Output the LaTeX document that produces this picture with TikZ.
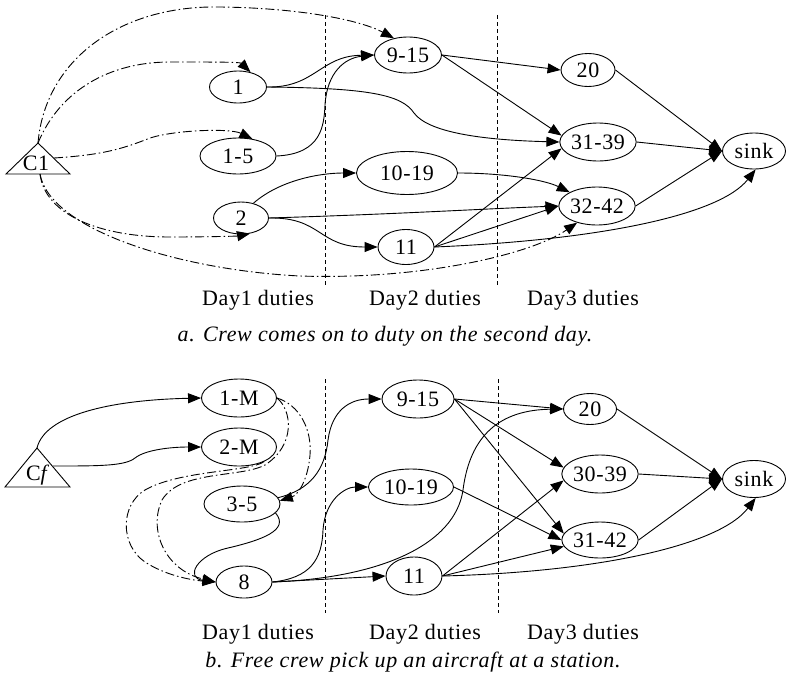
\documentclass[tikz,border=0pt]{standalone}
\usepackage{fontspec}
\setmainfont{Liberation Serif}[LetterSpace=3]
\usetikzlibrary{arrows.meta,shapes.geometric}
\begin{document}
\begin{tikzpicture}[x=1pt,y=-1pt,
  every node/.style={font=\fontsize{22}{26}\selectfont},
  nd/.style={ellipse,draw,line width=0.9pt,inner sep=0pt},
  lbl/.style={inner sep=0pt,anchor=base},
  arr/.style={line width=0.9pt,-{Triangle[length=13pt,width=10pt]}},
  dd/.style={arr,dash pattern=on 9pt off 3pt on 1.5pt off 3pt},
  sep/.style={line width=1pt,dash pattern=on 4pt off 3pt}]
\useasboundingbox (0,0) rectangle (786,680);

% ================= part a =================
\draw[line width=0.9pt] (38,143) -- (70,174) -- (6,174) -- cycle;
\node[lbl] (C1) at (36,170) {C1};
\coordinate (c1top) at (38,143);
\coordinate (c1right) at (54,158);
\coordinate (c1bot) at (40,174);

\node[nd,minimum width=57,minimum height=32] (a1) at (238,87) {1};
\node[nd,minimum width=76,minimum height=36] (a15) at (238,156) {1-5};
\node[nd,minimum width=55,minimum height=32] (a2) at (241,218) {2};
\node[nd,minimum width=67,minimum height=36] (a915) at (408,55) {9-15};
\node[nd,minimum width=101,minimum height=43] (a1019) at (407,173) {10-19};
\node[nd,minimum width=56,minimum height=35] (a11) at (406,247) {11};
\node[nd,minimum width=54,minimum height=33] (a20) at (588,70) {20};
\node[nd,minimum width=75,minimum height=38] (a3139) at (598,142) {31-39};
\node[nd,minimum width=76,minimum height=38] (a3242) at (597,206) {32-42};
\node[nd,minimum width=63,minimum height=36] (asink) at (754,151) {sink};

\coordinate (sa1) at (325,15);
\coordinate (sa2) at (325,287);
\coordinate (sa3) at (497,15);
\coordinate (sa4) at (497,287);
\draw[sep] (sa1) -- (sa2);
\draw[sep] (sa3) -- (sa4);

\node[lbl] (da1) at (258,305) {Day1 duties};
\node[lbl] (da2) at (425,305) {Day2 duties};
\node[lbl] (da3) at (583,305) {Day3 duties};
\node[lbl] (capa) at (385,341) {\itshape a. Crew comes on to duty on the second day.};

% solid edges a
\draw[arr] (a1.east) .. controls (315,88) and (320,56) .. (a915.west);
\draw[arr] (a1.east) .. controls (370,88) and (402,95) .. (414,113) .. controls (428,132) and (480,140) .. (a3139.west);
\draw[arr] (a15.east) .. controls (322,154) and (324,125) .. (325,105) .. controls (327,72) and (345,58) .. (a915.west);
\draw[arr] (a2.50) .. controls (280,180) and (320,173) .. (a1019.west);
\draw[arr] (a2.east) .. controls (400,214) and (480,209) .. (a3242.west);
\draw[arr] (a2.east) .. controls (322,217) and (318,247) .. (a11.west);
\draw[arr] (a1019.east) .. controls (505,173) and (545,180) .. (a3242.north west);
\draw[arr] (a915.east) -- (a20.west);
\draw[arr] (a915.east) -- (a3139.170);
\draw[arr] (a11.east) -- (a3139.190);
\draw[arr] (a11.east) -- (a3242.west);
\draw[arr] (a11.east) .. controls (600,240) and (720,215) .. (asink.-85);
\draw[arr] (a20.east) -- (asink.west);
\draw[arr] (a3139.east) -- (asink.west);
\draw[arr] (a3242.east) -- (asink.west);

% dash-dot edges a
\draw[dd] (c1top) .. controls (45,60) and (120,5) .. (220,7) .. controls (300,8) and (360,20) .. (a915.130);
\draw[dd] (c1top) .. controls (60,90) and (110,62) .. (170,62) .. controls (215,62) and (240,62) .. (a1.50);
\draw[dd] (c1right) .. controls (100,155) and (120,150) .. (150,138) .. controls (175,130) and (230,128) .. (a15.50);
\draw[dd] (c1bot) .. controls (45,215) and (100,237) .. (170,237) .. controls (210,237) and (238,236) .. (a2.-60);
\draw[dd] (c1bot) .. controls (50,230) and (180,270) .. (300,276) .. controls (420,280) and (530,255) .. (a3242.-140);

% ================= part b =================
\draw[line width=0.9pt] (37,448) -- (70,487) -- (5,487) -- cycle;
\node[lbl] (Cf) at (38,480) {C\textit{f}};
\coordinate (cftop) at (37,448);
\coordinate (cfright) at (53,466);

\node[nd,minimum width=75,minimum height=38] (b1M) at (239,398) {1-M};
\node[nd,minimum width=75,minimum height=38] (b2M) at (239,447) {2-M};
\node[nd,minimum width=76,minimum height=36] (b35) at (242,504) {3-5};
\node[nd,minimum width=56,minimum height=32] (b8) at (244,582) {8};
\node[nd,minimum width=72,minimum height=38] (b915) at (418,399) {9-15};
\node[nd,minimum width=85,minimum height=36] (b1019) at (411,487) {10-19};
\node[nd,minimum width=56,minimum height=38] (b11) at (414,576) {11};
\node[nd,minimum width=53,minimum height=31] (b20) at (590,409) {20};
\node[nd,minimum width=74,minimum height=38] (b3039) at (600,474) {30-39};
\node[nd,minimum width=74,minimum height=36] (b3142) at (600,540) {31-42};
\node[nd,minimum width=63,minimum height=37] (bsink) at (754,479) {sink};

\coordinate (sb1) at (325,379);
\coordinate (sb2) at (325,613);
\coordinate (sb3) at (498,379);
\coordinate (sb4) at (498,613);
\draw[sep] (sb1) -- (sb2);
\draw[sep] (sb3) -- (sb4);

\node[lbl] (db1) at (258,639) {Day1 duties};
\node[lbl] (db2) at (425,639) {Day2 duties};
\node[lbl] (db3) at (583,639) {Day3 duties};
\node[lbl] (capb) at (413,667) {\itshape b. Free crew pick up an aircraft at a station.};

% solid edges b
\draw[arr] (cftop) .. controls (45,415) and (110,400) .. (b1M.west);
\draw[arr] (cfright) .. controls (100,466) and (125,466) .. (135,458) .. controls (145,450) and (170,447) .. (b2M.west);
\draw[arr] (b35.-15) .. controls (290,530) and (262,540) .. (228,548) .. controls (196,555) and (185,578) .. (b8.west);
\draw[arr] (b35.10) .. controls (310,490) and (325,470) .. (328,440) .. controls (332,410) and (350,399) .. (b915.west);
\draw[arr] (b8.east) .. controls (310,578) and (322,560) .. (323,530) .. controls (325,500) and (345,487) .. (b1019.west);
\draw[arr] (b8.east) -- (b11.west);
\draw[arr] (b8.east) .. controls (380,578) and (455,545) .. (463,490) .. controls (470,435) and (500,410) .. (b20.west);
\draw[arr] (b915.east) -- (b20.west);
\draw[arr] (b915.east) -- (b3039.170);
\draw[arr] (b915.east) -- (b3142.170);
\draw[arr] (b1019.east) -- (b3142.west);
\draw[arr] (b11.east) -- (b3039.190);
\draw[arr] (b11.east) -- (b3142.190);
\draw[arr] (b11.east) .. controls (600,572) and (720,545) .. (bsink.-85);
\draw[arr] (b20.east) -- (bsink.west);
\draw[arr] (b3039.east) -- (bsink.west);
\draw[arr] (b3142.east) -- (bsink.west);

% dash-dot edges b
\draw[dd] (b1M.east) .. controls (300,405) and (312,430) .. (310,455) .. controls (308,480) and (298,495) .. (b35.5);
\draw[dd] (b1M.east) .. controls (292,410) and (296,445) .. (265,465) .. controls (240,478) and (180,470) .. (162,500) .. controls (148,530) and (165,570) .. (b8.west);
\draw[dd] (b2M.-30) .. controls (250,472) and (180,470) .. (145,490) .. controls (120,505) and (120,545) .. (145,562) .. controls (165,575) and (190,580) .. (b8.west);
\end{tikzpicture}
\end{document}
